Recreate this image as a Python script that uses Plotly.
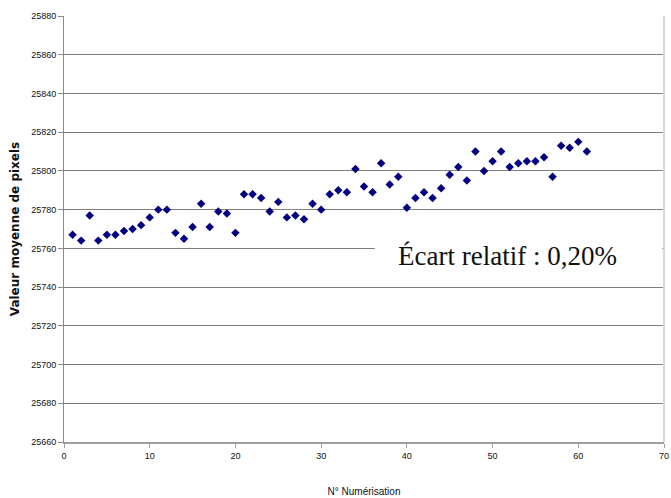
import plotly.graph_objects as go

# N° numérisation and mean pixel value
scan_no = list(range(1, 62))
mean_value = [
    25767, 25764, 25777, 25764, 25767, 25767, 25769, 25770, 25772, 25776,
    25780, 25780, 25768, 25765, 25771, 25783, 25771, 25779, 25778, 25768,
    25788, 25788, 25786, 25779, 25784, 25776, 25777, 25775, 25783, 25780,
    25788, 25790, 25789, 25801, 25792, 25789, 25804, 25793, 25797, 25781,
    25786, 25789, 25786, 25791, 25798, 25802, 25795, 25810, 25800, 25805,
    25810, 25802, 25804, 25805, 25805, 25807, 25797, 25813, 25812, 25815,
    25810,
]
x_ticks = list(range(0, 71, 10))
y_ticks = list(range(25660, 25881, 20))

TICK_FONT = dict(family="Liberation Sans, Arial, sans-serif", size=9, color="#111111")
GRID = "#7f7f7f"

fig = go.Figure(go.Scatter(
    x=scan_no, y=mean_value, mode="markers",
    marker=dict(symbol="diamond", size=6.5, color="#000080"),
    showlegend=False,
))

fig.update_layout(
    width=671, height=498,
    paper_bgcolor="white", plot_bgcolor="white",
    margin=dict(l=64, r=7, t=16, b=56),
    xaxis=dict(
        range=[0, 70], tickvals=x_ticks, showgrid=False, zeroline=False,
        automargin=False, ticklabeloverflow="allow",
        showline=True, linecolor="#a0a0a0", linewidth=2,
        ticks="outside", ticklen=4, tickcolor="#a0a0a0",
        tickfont=TICK_FONT,
        title=dict(text="N° Numérisation", standoff=28,
                   font=dict(family="Liberation Sans, Arial, sans-serif", size=10, color="#111111")),
    ),
    yaxis=dict(
        range=[25660, 25880], tickvals=y_ticks, tickformat="d",
        showgrid=True, gridcolor=GRID, gridwidth=1, automargin=False,
        zeroline=False, showline=True, linecolor="#8a8a8a", linewidth=1,
        ticks="outside", ticklen=5, tickcolor="#8a8a8a",
        tickfont=TICK_FONT,
        title=dict(text="<b>Valeur moyenne de pixels</b>", standoff=8,
                   font=dict(family="DejaVu Sans, sans-serif", size=12, color="#111111")),
    ),
    shapes=[
        # right border of the plot area
        dict(type="line", xref="paper", yref="paper", x0=1, x1=1, y0=0, y1=1,
             line=dict(color="#d6d6d6", width=2)),
        # white box behind the label, hides the grid line
        dict(type="rect", xref="paper", yref="paper", x0=0.518, x1=0.997, y0=0.38, y1=0.486,
             fillcolor="white", line=dict(width=0), layer="above"),
    ],
    annotations=[
        dict(text="Écart relatif : 0,20%", xref="paper", yref="paper",
             x=0.739, y=0.437, xanchor="center", yanchor="middle", showarrow=False,
             font=dict(family="Liberation Serif, DejaVu Serif, serif", size=27, color="#111111")),
    ],
)

fig.write_html("out.html", config={"displayModeBar": False},
               post_script="document.body.style.margin='0';")
